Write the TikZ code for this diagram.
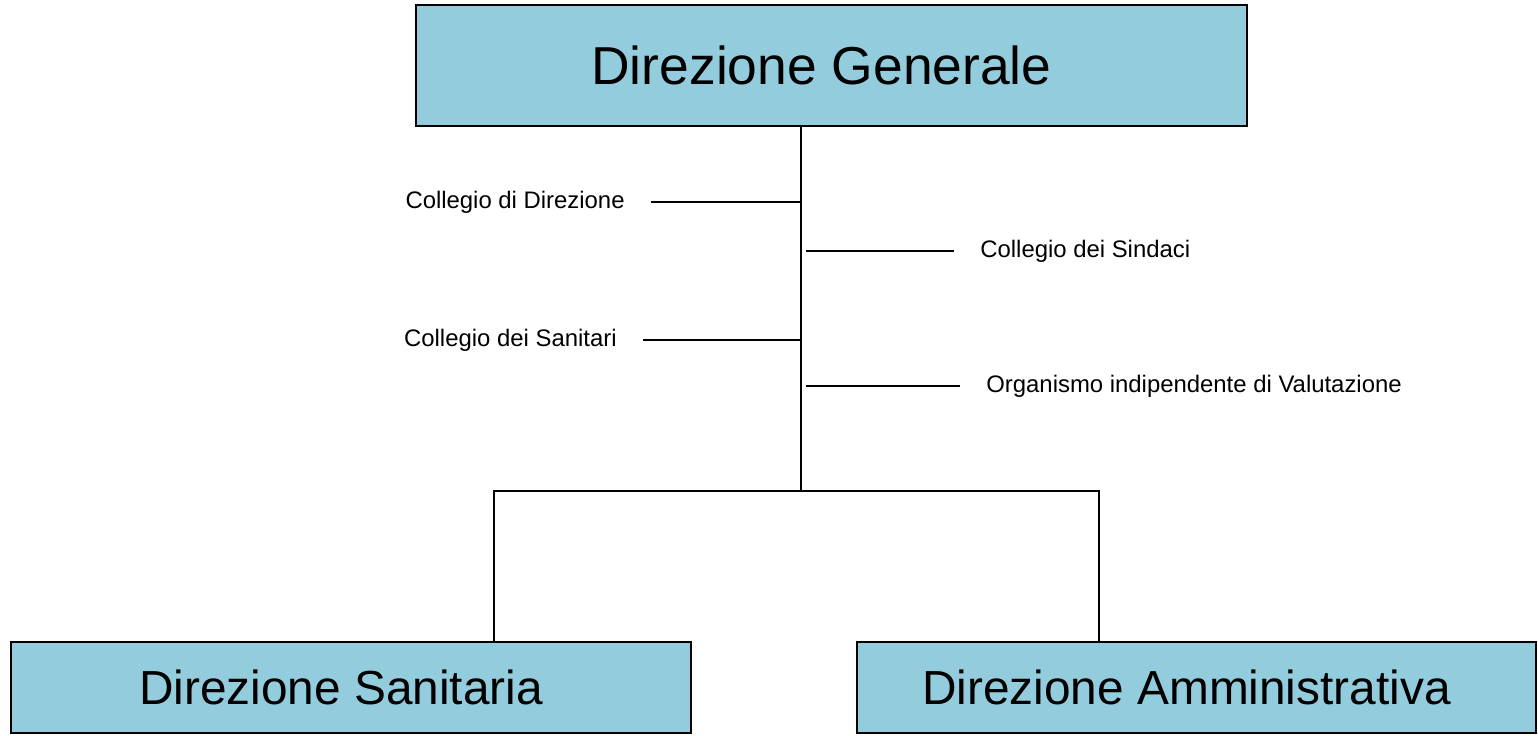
\documentclass[tikz,border=0pt]{standalone}
\usepackage{fontspec}
\setmainfont{Liberation Sans}
\definecolor{boxblue}{RGB}{147,205,221}

\begin{document}
\begin{tikzpicture}[x=0.02cm,y=-0.02cm,
    dirbox/.style={draw,line width=1.6pt,fill=boxblue,inner sep=0pt,
      execute at begin node=\hspace*{-0.4cm}},
    organ/.style={inner xsep=0pt,inner ysep=2pt,outer xsep=15pt,font=\fontsize{13.6}{16}\selectfont},
    link/.style={line width=1.1pt},
  ]
  \useasboundingbox (0,0) rectangle (1538,735);
  \node[dirbox,minimum width=16.62cm,minimum height=2.42cm,
    font=\fontsize{30.4}{36}\selectfont](gen) at (831.5,65.5){Direzione Generale};
  \node[dirbox,minimum width=13.6cm,minimum height=1.82cm,
    font=\fontsize{27.2}{32}\selectfont](san) at (351,687.5){Direzione Sanitaria};
  \node[dirbox,minimum width=13.58cm,minimum height=1.82cm,
    font=\fontsize{27.2}{32}\selectfont](amm) at (1196.5,687.5){Direzione Amministrativa};
  \coordinate (hub) at (801,491);
  \coordinate (left) at (494,491);
  \coordinate (right) at (1099,491);
  % organi di staff
  \node[organ,anchor=east](cdir) at (651,202){Collegio di Direzione};
  \node[organ,anchor=west](csin) at (954,251){Collegio dei Sindaci};
  \node[organ,anchor=east](csan) at (643,340){Collegio dei Sanitari};
  \node[organ,anchor=west](oiv) at (960,386){Organismo indipendente di Valutazione};
  \draw[link] (gen.south -| hub) -- (hub);
  \draw[link] (cdir.east) -- (cdir.east -| hub);
  \draw[link] (csan.east) -- (csan.east -| hub);
  \draw[link] ([xshift=0.1cm]csin.west -| hub) -- (csin.west);
  \draw[link] ([xshift=0.1cm]oiv.west -| hub) -- (oiv.west);
  \draw[line width=0.9pt] (san.north -| left) |- (hub) -| (amm.north -| right);
\end{tikzpicture}
\end{document}
